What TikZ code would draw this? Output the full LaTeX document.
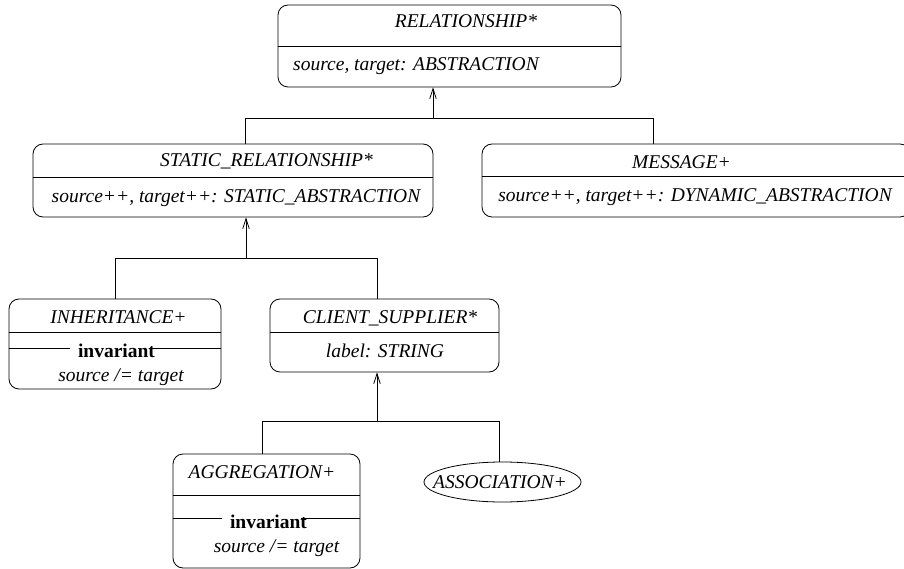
\documentclass[tikz,border=0pt]{standalone}
\usepackage{fontspec}
\setmainfont{Liberation Serif}
\usetikzlibrary{arrows.meta,shapes.geometric}
\newcommand\umlsize{\fontsize{19.5}{23}\selectfont}
\tikzset{
  cls/.style={draw, rounded corners=10pt, inner sep=0pt},
  txt/.style={anchor=base, inner sep=0pt, font=\umlsize\itshape},
  kw/.style={anchor=base, inner sep=0pt, font=\umlsize\bfseries},
  gen/.style={-{Straight Barb[length=10pt,width=6.5pt]}},
}
\begin{document}
\begin{tikzpicture}[x=1pt,y=-1pt,line width=0.8pt]
\useasboundingbox (0,0) rectangle (904,569);
\clip (0,0) rectangle (904,569);
% class boxes
\node[cls, minimum width=343, minimum height=82] (rel) at (449.5,46) {};
\node[cls, minimum width=400, minimum height=73] (stat) at (233,180.5) {};
\node[cls, minimum width=428, minimum height=73] (msg) at (696,180.5) {};
\node[cls, minimum width=212, minimum height=90] (inh) at (115,344) {};
\node[cls, minimum width=229, minimum height=73] (cs) at (384.5,335.5) {};
\node[cls, minimum width=187, minimum height=114] (agg) at (266.5,511) {};
\node[draw, ellipse, minimum width=157, minimum height=40, inner sep=0pt] (assoc) at (502.5,482) {};
% compartment lines
\draw (rel.west) -- (rel.east);
\draw (stat.west |- 0,177) -- (stat.east |- 0,177);
\draw (msg.west |- 0,176) -- (msg.east |- 0,176);
\draw (inh.west |- 0,332) -- (inh.east |- 0,332);
\draw (cs.west |- 0,332) -- (cs.east |- 0,332);
\draw (agg.west |- 0,495) -- (agg.east |- 0,495);
% texts
\node[txt] (relname) at (466,28) {RELATIONSHIP*};
\node[txt] (relattr) at (416,71) {source, target: ABSTRACTION};
\node[txt] (statname) at (266.5,167) {STATIC\_RELATIONSHIP*};
\node[txt] (statattr) at (236,203) {source++, target++: STATIC\_ABSTRACTION};
\node[txt] (msgname) at (681.5,169) {MESSAGE+};
\node[txt] (msgattr) at (695,202) {source++, target++: DYNAMIC\_ABSTRACTION};
\node[txt] (inhname) at (118.5,323) {INHERITANCE+};
\node[kw] (inhinv) at (116.5,357) {invariant};
\node[txt] (inhrule) at (121,381) {source /= target};
\node[txt] (csname) at (390,323) {CLIENT\_SUPPLIER*};
\node[txt] (csattr) at (385,357) {label: STRING};
\node[txt] (aggname) at (262,478) {AGGREGATION+};
\node[kw] (agginv) at (268.5,528) {invariant};
\node[txt] (aggrule) at (276.5,552) {source /= target};
\node[txt] (assocname) at (500,488) {ASSOCIATION+};
% invariant separators
\draw (inh.west |- 0,348) -- ([xshift=-8pt]inhinv.west |- 0,348);
\draw ([xshift=-6pt]inhinv.east |- 0,348) -- (inh.east |- 0,348);
\draw (agg.west |- 0,518) -- ([xshift=-8pt]agginv.west |- 0,518);
\draw ([xshift=-6pt]agginv.east |- 0,518) -- (agg.east |- 0,518);
% inheritance trees
\coordinate (t1) at (433,118);
\coordinate (t1l) at (245,118);
\coordinate (t1r) at (653,118);
\draw[gen] (t1) -- (t1 |- rel.south);
\draw (t1l |- stat.north) -- (t1l) -- (t1r) -- (t1r |- msg.north);
\coordinate (t2) at (246,258);
\coordinate (t2l) at (115,258);
\coordinate (t2r) at (377,258);
\draw[gen] (t2) -- (t2 |- stat.south);
\draw (t2l |- inh.north) -- (t2l) -- (t2r) -- (t2r |- cs.north);
\coordinate (t3) at (377,421);
\coordinate (t3l) at (262,421);
\coordinate (t3r) at (499,421);
\draw[gen] (t3) -- (t3 |- cs.south);
\draw (t3l |- agg.north) -- (t3l) -- (t3r) -- (t3r |- assoc.north);
\end{tikzpicture}
\end{document}
